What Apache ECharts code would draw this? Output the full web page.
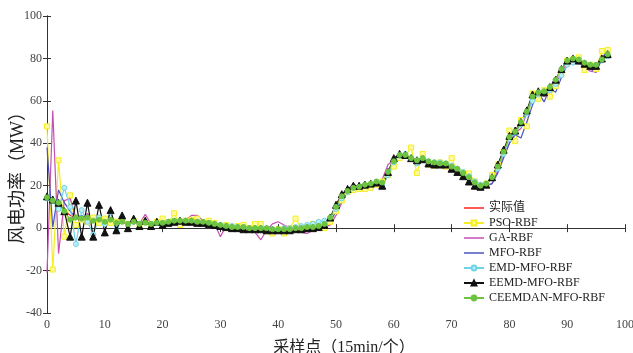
<!DOCTYPE html>
<html><head><meta charset="utf-8">
<script src="https://cdn.jsdelivr.net/npm/echarts@6/dist/echarts.min.js"></script>
<style>html,body{margin:0;padding:0;background:#fff}#c{width:633px;height:353px}</style>
</head><body><div id="c"></div>
<script>
var seriesNames = ['实际值','PSO-RBF','GA-RBF','MFO-RBF','EMD-MFO-RBF','EEMD-MFO-RBF','CEEMDAN-MFO-RBF'];
var xTicks = [0,10,20,30,40,50,60,70,80,90,100];
var yTicks = [-40,-20,0,20,40,60,80,100];

var actual = [14.5,13.2,11.5,8.5,6,5,4.5,4.5,4,3.5,
3.5,3,3,2.5,2.5,2.5,2,2.5,2.5,2.5,
2.5,3,3.5,4,3.5,3.5,3,3,2.5,2,
1.5,1,1,0.5,0.5,0,0,0,0,-0.5,
-0.5,-0.5,-0.5,0,0,0.5,0.5,1,2,5,
10,15,17.5,19,19.5,20.5,21,22,21.5,26.5,
31.5,34.5,34.5,33,32,33,31.5,31,30.5,30.5,
29,28,26,24,21.5,20,21,24,29,36,
43,45.5,50,55,62,64,64.5,66.5,70,75,
79,80,79.5,78,77,77,80,83];

var pso = [48,-19.5,32,-4,15.5,1.5,4,3,5,2.5,
4.5,2.5,3,4,2,3.5,1.5,3,2,3,
4.5,2.5,7,1.5,3.5,4,4.5,2.5,3.5,2.5,
1,1.5,0.5,1,1.5,0,2,2,-1.5,-2.5,
-0.5,-2.5,0,4.5,0,0.5,2,1,0,3,
8,13,17,18,18.5,18.5,19,20.5,22,25,
29,33,34,38,26,35,30,29.5,31,29,
33,27,25.5,25.8,22,20,21,25,30,36,
46,41,51,48,63.5,61,65,62,67,73,
79,79,80.5,74.5,77,75,83.5,84];

var ga = [-21,55.5,-12,13,14,5,4,7,3,5,
3,5,2,4,1,4,2,6.5,2,3,
2,3,3.5,3.5,4,6,6,3.5,3,2,
-4,1,0.5,0,-1,-1,-2,-5.5,-1,2,
3,1.5,0,-1,-2,-2.5,-1,0,0.5,1.5,
6,12,18,21,19,19,20.5,21,23,30,
32,33,34,33,32,33,31,30.5,30,30,
29,28,26.5,24,22,20,20,21,27,34,
40,45,47,54,60,64,62,66,68,73,
78,79,78,76,74,73.5,80,83];

var mfo = [38,0.5,18,12,8,5,6,4.5,5,3,
4,3,4,2.5,3,2,3,2,2.5,2,
2.5,3,3,3.5,3.5,3.5,3,3,2.5,2,
1.5,1,0.5,0.5,0,0,-0.5,0,-0.5,-1,
-1,-1,-0.5,0,0,0,0.5,1,1,3,
8,13,17,19,19.5,20,20.5,21.5,20,25,
31,34,34,32.5,32,33,31.5,31,30.5,30.5,
29.5,28,26.5,24,22,20,20,21,26,33,
40,44,42.5,50,58,64,59.5,66,64,71,
77,79,79.5,77,75,73.5,80,84];

var emd = [14,13,9,19,10,-7.5,8.5,3,-3,5,
2,7.5,-1.5,5,1.5,3.5,2,3,2,2.5,
2.5,3,3.5,3.5,3.5,3.5,3,3,2.5,2,
1.5,1,1,0.5,0.5,0,0,0,0,-0.5,
-0.5,0,0,0.5,1,1.5,2,3,3.5,5,
9,14,17,19,19.5,20,20.5,21.5,20,25,
31,34,35,33,30.5,33,31.5,31,31,30.5,
29.5,28,26.5,24.5,22,20.5,21,23.5,28,35,
42,45,49,54,60,63,64,65,68,72,
77,78,78.5,77.5,77,77,79,81];

var eemd = [15,13.5,12,8,-4,13,-4,12,-4,11,
-2,8.5,-1,6,0,4.5,1,3.5,1,3,
1.5,2.5,3,3.5,3,3,2.5,2.5,2,1.5,
1,0.5,0,0,-0.5,-0.5,-0.5,-0.5,-1,-1,
-1,-1,-1,-0.5,-0.5,0,0,0.5,1.5,5,
11,16,18.5,20,20,20.5,21,21.5,20,26.5,
33,35,34.5,33,32,32.5,30.5,30,30,30,
28,26.5,24.5,22,20,19.5,20.5,24,30,37,
43.5,46,50,55.5,63,64.5,64,66.5,70,75,
79,80,79,77.5,76.5,76.5,80,82];

var ceemdan = [14.5,13,12,8,4,5,4.5,5,3.5,4,
3,4,2.5,3,2,3,2,2.5,2,2.5,
2.5,3,3.5,3.5,3.5,3.5,3,3,2.5,2,
1.5,1,0.5,0.5,0.5,0,0,0,0,-0.5,
-0.5,-0.5,-0.5,0,0,0.5,0.5,1,2,5,
10,15,17.5,19,19.5,20.5,21,22,21.5,26.5,
31.5,34.5,34.5,33,32,33,31.5,31,30.5,30.5,
29,28,26,24,21.5,20,21,24,29,36,
43,45.5,50,55,62,64,64.5,66.5,70,75,
79,80,79.5,78,77,77,79.5,82];

function pairs(arr){ return arr.map(function(v,i){ return [i, v]; }); }

var serif = "'Liberation Serif','Times New Roman','Noto Sans CJK SC',serif";
var axisCol = '#333';
var labelCol = '#444';

var chart = echarts.init(document.getElementById('c'), null, {renderer:'canvas'});

function mk(name, data, color, symbol, size, fill, width){
  return {
    name: name, type: 'line', data: pairs(data),
    symbol: symbol, symbolSize: size, showSymbol: symbol !== 'none',
    lineStyle: {color: color, width: width},
    itemStyle: {color: fill, borderColor: color, borderWidth: 1},
    emphasis: {disabled: true}, animation: false, z: 2
  };
}

var colors = ['#ff2020','#f4ee20','#c54fb4','#4b55c0','#6fd2e6','#111111','#6cc440'];
var series = [
  mk(seriesNames[0], actual, colors[0], 'none', 0, colors[0], 1.2),
  mk(seriesNames[1], pso, colors[1], 'rect', 5, '#fffaa0', 1.2),
  mk(seriesNames[2], ga, colors[2], 'none', 0, colors[2], 1.2),
  mk(seriesNames[3], mfo, colors[3], 'none', 0, colors[3], 1.2),
  mk(seriesNames[4], emd, colors[4], 'circle', 5, '#bdeef6', 1.2),
  mk(seriesNames[5], eemd, colors[5], 'triangle', 7, colors[5], 1.2),
  mk(seriesNames[6], ceemdan, colors[6], 'circle', 5, colors[6], 1.2)
];

var lineIcon = 'path://M0,0H40V3H0Z';
var legendData = [
  {name: seriesNames[0], icon: lineIcon, itemStyle: {color: colors[0], borderWidth: 0}},
  {name: seriesNames[1]},
  {name: seriesNames[2], icon: lineIcon, itemStyle: {color: colors[2], borderWidth: 0}},
  {name: seriesNames[3], icon: lineIcon, itemStyle: {color: colors[3], borderWidth: 0}},
  {name: seriesNames[4]},
  {name: seriesNames[5]},
  {name: seriesNames[6]}
];

var baseAxis = {
  axisLine: {show: true, lineStyle: {color: axisCol, width: 1}},
  axisTick: {show: true, inside: true, length: 4, lineStyle: {color: axisCol}},
  splitLine: {show: false}
};

chart.setOption({
  backgroundColor: '#fff',
  animation: false,
  grid: {left: 47, right: 8, top: 16, bottom: 40, containLabel: false, outerBoundsMode: 'none'},
  legend: {
    orient: 'vertical', left: 463, top: 202, itemGap: 3, padding: 0,
    itemWidth: 20, itemHeight: 6,
    textStyle: {fontFamily: serif, fontSize: 12, color: '#222'},
    data: legendData
  },
  xAxis: [
    Object.assign({}, baseAxis, {
      type: 'value', min: 0, max: 100, interval: 10, position: 'bottom',
      name: '采样点（15min/个）', nameLocation: 'middle', nameGap: 27, nameMoveOverlap: false,
      nameTextStyle: {fontFamily: serif, fontSize: 16, color: '#222', padding: [0, 0, 0, 16]},
      axisLabel: {fontFamily: serif, fontSize: 12, color: labelCol, margin: 6,
        formatter: function(v){ return xTicks.indexOf(v) >= 0 ? String(v) : ''; }}
    }),
    Object.assign({}, baseAxis, {
      type: 'value', min: 0, max: 100, interval: 10, position: 'top',
      axisLabel: {show: false}
    })
  ],
  yAxis: [
    Object.assign({}, baseAxis, {
      type: 'value', min: -40, max: 100, interval: 20, position: 'left',
      name: '风电功率（MW）', nameLocation: 'middle', nameGap: 20, nameMoveOverlap: false,
      nameTextStyle: {fontFamily: serif, fontSize: 18, color: '#222', padding: [0, 18, 0, 0]},
      axisLabel: {fontFamily: serif, fontSize: 12, color: labelCol, margin: 5,
        formatter: function(v){ return yTicks.indexOf(v) >= 0 ? String(v) : ''; }}
    }),
    Object.assign({}, baseAxis, {
      type: 'value', min: -40, max: 100, interval: 20, position: 'right',
      axisLabel: {show: false}
    })
  ],
  series: series
});
</script>
</body></html>
